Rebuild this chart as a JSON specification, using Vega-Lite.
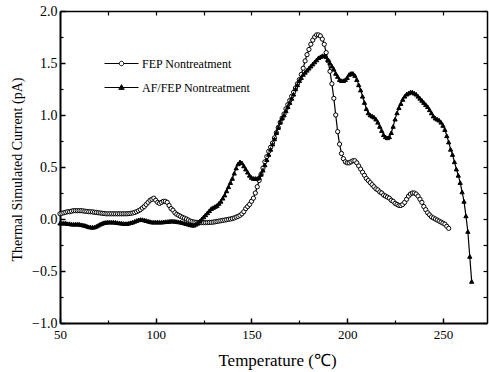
{
"$schema": "https://vega.github.io/schema/vega-lite/v6.json",
"width": 427, "height": 312,
"autosize": {"type": "none"},
"padding": {"left": 60, "top": 11, "right": 2, "bottom": 49},
"background": "white",
"config": {
  "view": {"stroke": null},
  "font": "Liberation Serif",
  "axis": {"grid": false, "domainColor": "black", "tickColor": "black", "labelColor": "black", "titleColor": "black", "labelFont": "Liberation Serif", "titleFont": "Liberation Serif", "titleFontWeight": "normal", "labelFlush": false, "labelOverlap": false, "labelBound": false}
},
"datasets": {"d": [
{"s":"FEP Nontreatment","t":50,"c":0.05},{"s":"FEP Nontreatment","t":51,"c":0.055},{"s":"FEP Nontreatment","t":52,"c":0.06},{"s":"FEP Nontreatment","t":53,"c":0.065},{"s":"FEP Nontreatment","t":54,"c":0.07},{"s":"FEP Nontreatment","t":55,"c":0.07},{"s":"FEP Nontreatment","t":56,"c":0.075},{"s":"FEP Nontreatment","t":57,"c":0.08},{"s":"FEP Nontreatment","t":58,"c":0.08},{"s":"FEP Nontreatment","t":59,"c":0.08},{"s":"FEP Nontreatment","t":60,"c":0.08},{"s":"FEP Nontreatment","t":61,"c":0.08},{"s":"FEP Nontreatment","t":62,"c":0.078},{"s":"FEP Nontreatment","t":63,"c":0.075},{"s":"FEP Nontreatment","t":64,"c":0.073},{"s":"FEP Nontreatment","t":65,"c":0.07},{"s":"FEP Nontreatment","t":66,"c":0.07},{"s":"FEP Nontreatment","t":67,"c":0.068},{"s":"FEP Nontreatment","t":68,"c":0.065},{"s":"FEP Nontreatment","t":69,"c":0.063},{"s":"FEP Nontreatment","t":70,"c":0.06},{"s":"FEP Nontreatment","t":71,"c":0.058},{"s":"FEP Nontreatment","t":72,"c":0.055},{"s":"FEP Nontreatment","t":73,"c":0.053},{"s":"FEP Nontreatment","t":74,"c":0.05},{"s":"FEP Nontreatment","t":75,"c":0.05},{"s":"FEP Nontreatment","t":76,"c":0.05},{"s":"FEP Nontreatment","t":77,"c":0.05},{"s":"FEP Nontreatment","t":78,"c":0.05},{"s":"FEP Nontreatment","t":79,"c":0.05},{"s":"FEP Nontreatment","t":80,"c":0.05},{"s":"FEP Nontreatment","t":81,"c":0.05},{"s":"FEP Nontreatment","t":82,"c":0.05},{"s":"FEP Nontreatment","t":83,"c":0.05},{"s":"FEP Nontreatment","t":84,"c":0.05},{"s":"FEP Nontreatment","t":85,"c":0.05},{"s":"FEP Nontreatment","t":86,"c":0.052},{"s":"FEP Nontreatment","t":87,"c":0.055},{"s":"FEP Nontreatment","t":88,"c":0.058},{"s":"FEP Nontreatment","t":89,"c":0.063},{"s":"FEP Nontreatment","t":90,"c":0.07},{"s":"FEP Nontreatment","t":91,"c":0.08},{"s":"FEP Nontreatment","t":92,"c":0.09},{"s":"FEP Nontreatment","t":93,"c":0.105},{"s":"FEP Nontreatment","t":94,"c":0.12},{"s":"FEP Nontreatment","t":95,"c":0.14},{"s":"FEP Nontreatment","t":96,"c":0.16},{"s":"FEP Nontreatment","t":97,"c":0.18},{"s":"FEP Nontreatment","t":98,"c":0.19},{"s":"FEP Nontreatment","t":99,"c":0.2},{"s":"FEP Nontreatment","t":100,"c":0.18},{"s":"FEP Nontreatment","t":101,"c":0.16},{"s":"FEP Nontreatment","t":102,"c":0.15},{"s":"FEP Nontreatment","t":103,"c":0.16},{"s":"FEP Nontreatment","t":104,"c":0.17},{"s":"FEP Nontreatment","t":105,"c":0.17},{"s":"FEP Nontreatment","t":106,"c":0.16},{"s":"FEP Nontreatment","t":107,"c":0.13},{"s":"FEP Nontreatment","t":108,"c":0.1},{"s":"FEP Nontreatment","t":109,"c":0.085},{"s":"FEP Nontreatment","t":110,"c":0.06},{"s":"FEP Nontreatment","t":111,"c":0.045},{"s":"FEP Nontreatment","t":112,"c":0.035},{"s":"FEP Nontreatment","t":113,"c":0.025},{"s":"FEP Nontreatment","t":114,"c":0.015},{"s":"FEP Nontreatment","t":115,"c":0.008},{"s":"FEP Nontreatment","t":116,"c":0.0},{"s":"FEP Nontreatment","t":117,"c":-0.01},{"s":"FEP Nontreatment","t":118,"c":-0.02},{"s":"FEP Nontreatment","t":119,"c":-0.025},{"s":"FEP Nontreatment","t":120,"c":-0.03},{"s":"FEP Nontreatment","t":121,"c":-0.032},{"s":"FEP Nontreatment","t":122,"c":-0.034},{"s":"FEP Nontreatment","t":123,"c":-0.035},{"s":"FEP Nontreatment","t":124,"c":-0.035},{"s":"FEP Nontreatment","t":125,"c":-0.035},{"s":"FEP Nontreatment","t":126,"c":-0.035},{"s":"FEP Nontreatment","t":127,"c":-0.034},{"s":"FEP Nontreatment","t":128,"c":-0.033},{"s":"FEP Nontreatment","t":129,"c":-0.032},{"s":"FEP Nontreatment","t":130,"c":-0.03},{"s":"FEP Nontreatment","t":131,"c":-0.027},{"s":"FEP Nontreatment","t":132,"c":-0.023},{"s":"FEP Nontreatment","t":133,"c":-0.02},{"s":"FEP Nontreatment","t":134,"c":-0.017},{"s":"FEP Nontreatment","t":135,"c":-0.013},{"s":"FEP Nontreatment","t":136,"c":-0.01},{"s":"FEP Nontreatment","t":137,"c":-0.007},{"s":"FEP Nontreatment","t":138,"c":-0.003},{"s":"FEP Nontreatment","t":139,"c":0.0},{"s":"FEP Nontreatment","t":140,"c":0.005},{"s":"FEP Nontreatment","t":141,"c":0.01},{"s":"FEP Nontreatment","t":142,"c":0.018},{"s":"FEP Nontreatment","t":143,"c":0.025},{"s":"FEP Nontreatment","t":144,"c":0.035},{"s":"FEP Nontreatment","t":145,"c":0.05},{"s":"FEP Nontreatment","t":146,"c":0.07},{"s":"FEP Nontreatment","t":147,"c":0.1},{"s":"FEP Nontreatment","t":148,"c":0.12},{"s":"FEP Nontreatment","t":149,"c":0.14},{"s":"FEP Nontreatment","t":150,"c":0.17},{"s":"FEP Nontreatment","t":151,"c":0.2},{"s":"FEP Nontreatment","t":152,"c":0.25},{"s":"FEP Nontreatment","t":153,"c":0.31},{"s":"FEP Nontreatment","t":154,"c":0.37},{"s":"FEP Nontreatment","t":155,"c":0.43},{"s":"FEP Nontreatment","t":156,"c":0.49},{"s":"FEP Nontreatment","t":157,"c":0.55},{"s":"FEP Nontreatment","t":158,"c":0.6},{"s":"FEP Nontreatment","t":159,"c":0.65},{"s":"FEP Nontreatment","t":160,"c":0.69},{"s":"FEP Nontreatment","t":161,"c":0.73},{"s":"FEP Nontreatment","t":162,"c":0.78},{"s":"FEP Nontreatment","t":163,"c":0.83},{"s":"FEP Nontreatment","t":164,"c":0.88},{"s":"FEP Nontreatment","t":165,"c":0.93},{"s":"FEP Nontreatment","t":166,"c":0.97},{"s":"FEP Nontreatment","t":167,"c":1.01},{"s":"FEP Nontreatment","t":168,"c":1.06},{"s":"FEP Nontreatment","t":169,"c":1.1},{"s":"FEP Nontreatment","t":170,"c":1.14},{"s":"FEP Nontreatment","t":171,"c":1.18},{"s":"FEP Nontreatment","t":172,"c":1.22},{"s":"FEP Nontreatment","t":173,"c":1.26},{"s":"FEP Nontreatment","t":174,"c":1.3},{"s":"FEP Nontreatment","t":175,"c":1.34},{"s":"FEP Nontreatment","t":176,"c":1.39},{"s":"FEP Nontreatment","t":177,"c":1.45},{"s":"FEP Nontreatment","t":178,"c":1.52},{"s":"FEP Nontreatment","t":179,"c":1.58},{"s":"FEP Nontreatment","t":180,"c":1.63},{"s":"FEP Nontreatment","t":181,"c":1.68},{"s":"FEP Nontreatment","t":182,"c":1.72},{"s":"FEP Nontreatment","t":183,"c":1.75},{"s":"FEP Nontreatment","t":184,"c":1.77},{"s":"FEP Nontreatment","t":185,"c":1.77},{"s":"FEP Nontreatment","t":186,"c":1.76},{"s":"FEP Nontreatment","t":187,"c":1.73},{"s":"FEP Nontreatment","t":188,"c":1.68},{"s":"FEP Nontreatment","t":189,"c":1.6},{"s":"FEP Nontreatment","t":190,"c":1.52},{"s":"FEP Nontreatment","t":191,"c":1.42},{"s":"FEP Nontreatment","t":192,"c":1.3},{"s":"FEP Nontreatment","t":193,"c":1.16},{"s":"FEP Nontreatment","t":194,"c":1.0},{"s":"FEP Nontreatment","t":195,"c":0.84},{"s":"FEP Nontreatment","t":196,"c":0.72},{"s":"FEP Nontreatment","t":197,"c":0.63},{"s":"FEP Nontreatment","t":198,"c":0.58},{"s":"FEP Nontreatment","t":199,"c":0.55},{"s":"FEP Nontreatment","t":200,"c":0.54},{"s":"FEP Nontreatment","t":201,"c":0.54},{"s":"FEP Nontreatment","t":202,"c":0.55},{"s":"FEP Nontreatment","t":203,"c":0.56},{"s":"FEP Nontreatment","t":204,"c":0.56},{"s":"FEP Nontreatment","t":205,"c":0.54},{"s":"FEP Nontreatment","t":206,"c":0.51},{"s":"FEP Nontreatment","t":207,"c":0.48},{"s":"FEP Nontreatment","t":208,"c":0.45},{"s":"FEP Nontreatment","t":209,"c":0.42},{"s":"FEP Nontreatment","t":210,"c":0.39},{"s":"FEP Nontreatment","t":211,"c":0.37},{"s":"FEP Nontreatment","t":212,"c":0.35},{"s":"FEP Nontreatment","t":213,"c":0.33},{"s":"FEP Nontreatment","t":214,"c":0.31},{"s":"FEP Nontreatment","t":215,"c":0.29},{"s":"FEP Nontreatment","t":216,"c":0.28},{"s":"FEP Nontreatment","t":217,"c":0.26},{"s":"FEP Nontreatment","t":218,"c":0.25},{"s":"FEP Nontreatment","t":219,"c":0.23},{"s":"FEP Nontreatment","t":220,"c":0.22},{"s":"FEP Nontreatment","t":221,"c":0.21},{"s":"FEP Nontreatment","t":222,"c":0.2},{"s":"FEP Nontreatment","t":223,"c":0.18},{"s":"FEP Nontreatment","t":224,"c":0.17},{"s":"FEP Nontreatment","t":225,"c":0.15},{"s":"FEP Nontreatment","t":226,"c":0.14},{"s":"FEP Nontreatment","t":227,"c":0.13},{"s":"FEP Nontreatment","t":228,"c":0.13},{"s":"FEP Nontreatment","t":229,"c":0.14},{"s":"FEP Nontreatment","t":230,"c":0.16},{"s":"FEP Nontreatment","t":231,"c":0.19},{"s":"FEP Nontreatment","t":232,"c":0.22},{"s":"FEP Nontreatment","t":233,"c":0.24},{"s":"FEP Nontreatment","t":234,"c":0.25},{"s":"FEP Nontreatment","t":235,"c":0.25},{"s":"FEP Nontreatment","t":236,"c":0.24},{"s":"FEP Nontreatment","t":237,"c":0.22},{"s":"FEP Nontreatment","t":238,"c":0.19},{"s":"FEP Nontreatment","t":239,"c":0.16},{"s":"FEP Nontreatment","t":240,"c":0.12},{"s":"FEP Nontreatment","t":241,"c":0.09},{"s":"FEP Nontreatment","t":242,"c":0.06},{"s":"FEP Nontreatment","t":243,"c":0.04},{"s":"FEP Nontreatment","t":244,"c":0.02},{"s":"FEP Nontreatment","t":245,"c":0.01},{"s":"FEP Nontreatment","t":246,"c":0.0},{"s":"FEP Nontreatment","t":247,"c":-0.01},{"s":"FEP Nontreatment","t":248,"c":-0.02},{"s":"FEP Nontreatment","t":249,"c":-0.03},{"s":"FEP Nontreatment","t":250,"c":-0.04},{"s":"FEP Nontreatment","t":251,"c":-0.05},{"s":"FEP Nontreatment","t":252,"c":-0.07},{"s":"FEP Nontreatment","t":253,"c":-0.09},
{"s":"AF/FEP Nontreatment","t":50,"c":-0.04},{"s":"AF/FEP Nontreatment","t":51,"c":-0.04},{"s":"AF/FEP Nontreatment","t":52,"c":-0.04},{"s":"AF/FEP Nontreatment","t":53,"c":-0.04},{"s":"AF/FEP Nontreatment","t":54,"c":-0.045},{"s":"AF/FEP Nontreatment","t":55,"c":-0.045},{"s":"AF/FEP Nontreatment","t":56,"c":-0.05},{"s":"AF/FEP Nontreatment","t":57,"c":-0.05},{"s":"AF/FEP Nontreatment","t":58,"c":-0.05},{"s":"AF/FEP Nontreatment","t":59,"c":-0.05},{"s":"AF/FEP Nontreatment","t":60,"c":-0.05},{"s":"AF/FEP Nontreatment","t":61,"c":-0.055},{"s":"AF/FEP Nontreatment","t":62,"c":-0.058},{"s":"AF/FEP Nontreatment","t":63,"c":-0.062},{"s":"AF/FEP Nontreatment","t":64,"c":-0.068},{"s":"AF/FEP Nontreatment","t":65,"c":-0.075},{"s":"AF/FEP Nontreatment","t":66,"c":-0.078},{"s":"AF/FEP Nontreatment","t":67,"c":-0.08},{"s":"AF/FEP Nontreatment","t":68,"c":-0.077},{"s":"AF/FEP Nontreatment","t":69,"c":-0.07},{"s":"AF/FEP Nontreatment","t":70,"c":-0.06},{"s":"AF/FEP Nontreatment","t":71,"c":-0.05},{"s":"AF/FEP Nontreatment","t":72,"c":-0.042},{"s":"AF/FEP Nontreatment","t":73,"c":-0.035},{"s":"AF/FEP Nontreatment","t":74,"c":-0.032},{"s":"AF/FEP Nontreatment","t":75,"c":-0.03},{"s":"AF/FEP Nontreatment","t":76,"c":-0.03},{"s":"AF/FEP Nontreatment","t":77,"c":-0.03},{"s":"AF/FEP Nontreatment","t":78,"c":-0.03},{"s":"AF/FEP Nontreatment","t":79,"c":-0.032},{"s":"AF/FEP Nontreatment","t":80,"c":-0.035},{"s":"AF/FEP Nontreatment","t":81,"c":-0.038},{"s":"AF/FEP Nontreatment","t":82,"c":-0.04},{"s":"AF/FEP Nontreatment","t":83,"c":-0.043},{"s":"AF/FEP Nontreatment","t":84,"c":-0.045},{"s":"AF/FEP Nontreatment","t":85,"c":-0.044},{"s":"AF/FEP Nontreatment","t":86,"c":-0.04},{"s":"AF/FEP Nontreatment","t":87,"c":-0.035},{"s":"AF/FEP Nontreatment","t":88,"c":-0.03},{"s":"AF/FEP Nontreatment","t":89,"c":-0.022},{"s":"AF/FEP Nontreatment","t":90,"c":-0.015},{"s":"AF/FEP Nontreatment","t":91,"c":-0.008},{"s":"AF/FEP Nontreatment","t":92,"c":-0.005},{"s":"AF/FEP Nontreatment","t":93,"c":-0.006},{"s":"AF/FEP Nontreatment","t":94,"c":-0.01},{"s":"AF/FEP Nontreatment","t":95,"c":-0.015},{"s":"AF/FEP Nontreatment","t":96,"c":-0.02},{"s":"AF/FEP Nontreatment","t":97,"c":-0.025},{"s":"AF/FEP Nontreatment","t":98,"c":-0.03},{"s":"AF/FEP Nontreatment","t":99,"c":-0.03},{"s":"AF/FEP Nontreatment","t":100,"c":-0.03},{"s":"AF/FEP Nontreatment","t":101,"c":-0.03},{"s":"AF/FEP Nontreatment","t":102,"c":-0.03},{"s":"AF/FEP Nontreatment","t":103,"c":-0.03},{"s":"AF/FEP Nontreatment","t":104,"c":-0.028},{"s":"AF/FEP Nontreatment","t":105,"c":-0.026},{"s":"AF/FEP Nontreatment","t":106,"c":-0.025},{"s":"AF/FEP Nontreatment","t":107,"c":-0.022},{"s":"AF/FEP Nontreatment","t":108,"c":-0.02},{"s":"AF/FEP Nontreatment","t":109,"c":-0.02},{"s":"AF/FEP Nontreatment","t":110,"c":-0.022},{"s":"AF/FEP Nontreatment","t":111,"c":-0.025},{"s":"AF/FEP Nontreatment","t":112,"c":-0.028},{"s":"AF/FEP Nontreatment","t":113,"c":-0.03},{"s":"AF/FEP Nontreatment","t":114,"c":-0.035},{"s":"AF/FEP Nontreatment","t":115,"c":-0.04},{"s":"AF/FEP Nontreatment","t":116,"c":-0.045},{"s":"AF/FEP Nontreatment","t":117,"c":-0.05},{"s":"AF/FEP Nontreatment","t":118,"c":-0.055},{"s":"AF/FEP Nontreatment","t":119,"c":-0.06},{"s":"AF/FEP Nontreatment","t":120,"c":-0.06},{"s":"AF/FEP Nontreatment","t":121,"c":-0.05},{"s":"AF/FEP Nontreatment","t":122,"c":-0.04},{"s":"AF/FEP Nontreatment","t":123,"c":-0.02},{"s":"AF/FEP Nontreatment","t":124,"c":0.0},{"s":"AF/FEP Nontreatment","t":125,"c":0.02},{"s":"AF/FEP Nontreatment","t":126,"c":0.04},{"s":"AF/FEP Nontreatment","t":127,"c":0.06},{"s":"AF/FEP Nontreatment","t":128,"c":0.08},{"s":"AF/FEP Nontreatment","t":129,"c":0.1},{"s":"AF/FEP Nontreatment","t":130,"c":0.11},{"s":"AF/FEP Nontreatment","t":131,"c":0.12},{"s":"AF/FEP Nontreatment","t":132,"c":0.13},{"s":"AF/FEP Nontreatment","t":133,"c":0.15},{"s":"AF/FEP Nontreatment","t":134,"c":0.17},{"s":"AF/FEP Nontreatment","t":135,"c":0.2},{"s":"AF/FEP Nontreatment","t":136,"c":0.23},{"s":"AF/FEP Nontreatment","t":137,"c":0.27},{"s":"AF/FEP Nontreatment","t":138,"c":0.31},{"s":"AF/FEP Nontreatment","t":139,"c":0.35},{"s":"AF/FEP Nontreatment","t":140,"c":0.39},{"s":"AF/FEP Nontreatment","t":141,"c":0.44},{"s":"AF/FEP Nontreatment","t":142,"c":0.49},{"s":"AF/FEP Nontreatment","t":143,"c":0.53},{"s":"AF/FEP Nontreatment","t":144,"c":0.55},{"s":"AF/FEP Nontreatment","t":145,"c":0.54},{"s":"AF/FEP Nontreatment","t":146,"c":0.51},{"s":"AF/FEP Nontreatment","t":147,"c":0.48},{"s":"AF/FEP Nontreatment","t":148,"c":0.45},{"s":"AF/FEP Nontreatment","t":149,"c":0.42},{"s":"AF/FEP Nontreatment","t":150,"c":0.4},{"s":"AF/FEP Nontreatment","t":151,"c":0.39},{"s":"AF/FEP Nontreatment","t":152,"c":0.39},{"s":"AF/FEP Nontreatment","t":153,"c":0.39},{"s":"AF/FEP Nontreatment","t":154,"c":0.4},{"s":"AF/FEP Nontreatment","t":155,"c":0.43},{"s":"AF/FEP Nontreatment","t":156,"c":0.47},{"s":"AF/FEP Nontreatment","t":157,"c":0.52},{"s":"AF/FEP Nontreatment","t":158,"c":0.57},{"s":"AF/FEP Nontreatment","t":159,"c":0.62},{"s":"AF/FEP Nontreatment","t":160,"c":0.67},{"s":"AF/FEP Nontreatment","t":161,"c":0.72},{"s":"AF/FEP Nontreatment","t":162,"c":0.77},{"s":"AF/FEP Nontreatment","t":163,"c":0.83},{"s":"AF/FEP Nontreatment","t":164,"c":0.88},{"s":"AF/FEP Nontreatment","t":165,"c":0.93},{"s":"AF/FEP Nontreatment","t":166,"c":0.97},{"s":"AF/FEP Nontreatment","t":167,"c":1.0},{"s":"AF/FEP Nontreatment","t":168,"c":1.04},{"s":"AF/FEP Nontreatment","t":169,"c":1.08},{"s":"AF/FEP Nontreatment","t":170,"c":1.12},{"s":"AF/FEP Nontreatment","t":171,"c":1.16},{"s":"AF/FEP Nontreatment","t":172,"c":1.2},{"s":"AF/FEP Nontreatment","t":173,"c":1.25},{"s":"AF/FEP Nontreatment","t":174,"c":1.29},{"s":"AF/FEP Nontreatment","t":175,"c":1.33},{"s":"AF/FEP Nontreatment","t":176,"c":1.36},{"s":"AF/FEP Nontreatment","t":177,"c":1.39},{"s":"AF/FEP Nontreatment","t":178,"c":1.41},{"s":"AF/FEP Nontreatment","t":179,"c":1.43},{"s":"AF/FEP Nontreatment","t":180,"c":1.45},{"s":"AF/FEP Nontreatment","t":181,"c":1.47},{"s":"AF/FEP Nontreatment","t":182,"c":1.49},{"s":"AF/FEP Nontreatment","t":183,"c":1.51},{"s":"AF/FEP Nontreatment","t":184,"c":1.53},{"s":"AF/FEP Nontreatment","t":185,"c":1.55},{"s":"AF/FEP Nontreatment","t":186,"c":1.56},{"s":"AF/FEP Nontreatment","t":187,"c":1.57},{"s":"AF/FEP Nontreatment","t":188,"c":1.57},{"s":"AF/FEP Nontreatment","t":189,"c":1.56},{"s":"AF/FEP Nontreatment","t":190,"c":1.53},{"s":"AF/FEP Nontreatment","t":191,"c":1.5},{"s":"AF/FEP Nontreatment","t":192,"c":1.47},{"s":"AF/FEP Nontreatment","t":193,"c":1.44},{"s":"AF/FEP Nontreatment","t":194,"c":1.4},{"s":"AF/FEP Nontreatment","t":195,"c":1.37},{"s":"AF/FEP Nontreatment","t":196,"c":1.34},{"s":"AF/FEP Nontreatment","t":197,"c":1.33},{"s":"AF/FEP Nontreatment","t":198,"c":1.33},{"s":"AF/FEP Nontreatment","t":199,"c":1.34},{"s":"AF/FEP Nontreatment","t":200,"c":1.36},{"s":"AF/FEP Nontreatment","t":201,"c":1.39},{"s":"AF/FEP Nontreatment","t":202,"c":1.4},{"s":"AF/FEP Nontreatment","t":203,"c":1.4},{"s":"AF/FEP Nontreatment","t":204,"c":1.38},{"s":"AF/FEP Nontreatment","t":205,"c":1.34},{"s":"AF/FEP Nontreatment","t":206,"c":1.29},{"s":"AF/FEP Nontreatment","t":207,"c":1.24},{"s":"AF/FEP Nontreatment","t":208,"c":1.18},{"s":"AF/FEP Nontreatment","t":209,"c":1.12},{"s":"AF/FEP Nontreatment","t":210,"c":1.06},{"s":"AF/FEP Nontreatment","t":211,"c":1.02},{"s":"AF/FEP Nontreatment","t":212,"c":1.0},{"s":"AF/FEP Nontreatment","t":213,"c":0.99},{"s":"AF/FEP Nontreatment","t":214,"c":0.98},{"s":"AF/FEP Nontreatment","t":215,"c":0.96},{"s":"AF/FEP Nontreatment","t":216,"c":0.93},{"s":"AF/FEP Nontreatment","t":217,"c":0.89},{"s":"AF/FEP Nontreatment","t":218,"c":0.85},{"s":"AF/FEP Nontreatment","t":219,"c":0.81},{"s":"AF/FEP Nontreatment","t":220,"c":0.79},{"s":"AF/FEP Nontreatment","t":221,"c":0.78},{"s":"AF/FEP Nontreatment","t":222,"c":0.79},{"s":"AF/FEP Nontreatment","t":223,"c":0.83},{"s":"AF/FEP Nontreatment","t":224,"c":0.89},{"s":"AF/FEP Nontreatment","t":225,"c":0.96},{"s":"AF/FEP Nontreatment","t":226,"c":1.02},{"s":"AF/FEP Nontreatment","t":227,"c":1.07},{"s":"AF/FEP Nontreatment","t":228,"c":1.11},{"s":"AF/FEP Nontreatment","t":229,"c":1.15},{"s":"AF/FEP Nontreatment","t":230,"c":1.18},{"s":"AF/FEP Nontreatment","t":231,"c":1.2},{"s":"AF/FEP Nontreatment","t":232,"c":1.21},{"s":"AF/FEP Nontreatment","t":233,"c":1.22},{"s":"AF/FEP Nontreatment","t":234,"c":1.22},{"s":"AF/FEP Nontreatment","t":235,"c":1.21},{"s":"AF/FEP Nontreatment","t":236,"c":1.2},{"s":"AF/FEP Nontreatment","t":237,"c":1.18},{"s":"AF/FEP Nontreatment","t":238,"c":1.16},{"s":"AF/FEP Nontreatment","t":239,"c":1.14},{"s":"AF/FEP Nontreatment","t":240,"c":1.12},{"s":"AF/FEP Nontreatment","t":241,"c":1.1},{"s":"AF/FEP Nontreatment","t":242,"c":1.08},{"s":"AF/FEP Nontreatment","t":243,"c":1.05},{"s":"AF/FEP Nontreatment","t":244,"c":1.02},{"s":"AF/FEP Nontreatment","t":245,"c":0.99},{"s":"AF/FEP Nontreatment","t":246,"c":0.97},{"s":"AF/FEP Nontreatment","t":247,"c":0.96},{"s":"AF/FEP Nontreatment","t":248,"c":0.95},{"s":"AF/FEP Nontreatment","t":249,"c":0.93},{"s":"AF/FEP Nontreatment","t":250,"c":0.9},{"s":"AF/FEP Nontreatment","t":251,"c":0.86},{"s":"AF/FEP Nontreatment","t":252,"c":0.8},{"s":"AF/FEP Nontreatment","t":253,"c":0.74},{"s":"AF/FEP Nontreatment","t":254,"c":0.67},{"s":"AF/FEP Nontreatment","t":255,"c":0.62},{"s":"AF/FEP Nontreatment","t":256,"c":0.55},{"s":"AF/FEP Nontreatment","t":257,"c":0.48},{"s":"AF/FEP Nontreatment","t":258,"c":0.42},{"s":"AF/FEP Nontreatment","t":259,"c":0.35},{"s":"AF/FEP Nontreatment","t":260,"c":0.26},{"s":"AF/FEP Nontreatment","t":261,"c":0.17},{"s":"AF/FEP Nontreatment","t":262,"c":0.03},{"s":"AF/FEP Nontreatment","t":263,"c":-0.12},{"s":"AF/FEP Nontreatment","t":264,"c":-0.36},{"s":"AF/FEP Nontreatment","t":265,"c":-0.6}
]},
"data": {"name": "d"},
"layer": [
  {
    "mark": {"type": "line", "color": "black", "strokeWidth": 1.2},
    "encoding": {
      "x": {"field": "t", "type": "quantitative", "scale": {"domain": [50, 273], "nice": false, "zero": false},
            "axis": {"orient": "bottom", "values": [50, 100, 150, 200, 250], "tickSize": -5, "tickWidth": 1.5, "domainWidth": 2, "labelPadding": 10, "labelFontSize": 13, "title": "Temperature (℃)", "titleFontSize": 17, "titleX": 217, "titleY": 37, "titleBaseline": "middle"}},
      "y": {"field": "c", "type": "quantitative", "scale": {"domain": [-1, 2], "nice": false, "zero": false},
            "axis": {"orient": "left", "values": [-1, -0.5, 0, 0.5, 1, 1.5, 2], "format": ".1f", "tickSize": -5, "tickWidth": 1.5, "domainWidth": 2, "labelPadding": 8, "labelFontSize": 14, "title": "Thermal Simulated Current (pA)", "titleFontSize": 14, "titleX": -43, "titleY": 158, "titleBaseline": "middle", "titleAngle": -90}},
      "detail": {"field": "s"}
    }
  },
  {
    "mark": {"type": "point", "filled": true, "stroke": "black", "strokeWidth": 1, "opacity": 1},
    "encoding": {
      "x": {"field": "t", "type": "quantitative",
            "axis": {"orient": "bottom", "values": [75, 125, 175, 225], "tickSize": -3, "tickWidth": 1.2, "domain": false, "labels": false, "title": null}},
      "y": {"field": "c", "type": "quantitative",
            "axis": {"orient": "left", "values": [-0.75, -0.25, 0.25, 0.75, 1.25, 1.75], "tickSize": -3, "tickWidth": 1.2, "domain": false, "labels": false, "title": null}},
      "size": {"value": 18},
      "fill": {"condition": {"test": "datum.s === 'FEP Nontreatment'", "value": "white"}, "value": "black"},
      "shape": {"field": "s", "type": "nominal", "scale": {"domain": ["FEP Nontreatment", "AF/FEP Nontreatment"], "range": ["circle", "triangle-up"]}, "legend": null}
    }
  },
  {
    "transform": [{"filter": "datum.t < 0"}],
    "mark": {"type": "point", "filled": false, "color": "black", "strokeWidth": 1, "opacity": 1},
    "encoding": {
      "shape": {"field": "s", "type": "nominal", "scale": {"domain": ["FEP Nontreatment", "AF/FEP Nontreatment"], "range": ["M-1,0L-0.13,0M0.13,0L1,0M0.13,0A0.13,0.13,0,1,1,-0.13,0A0.13,0.13,0,1,1,0.13,0Z", "M-1,0L1,0M0,-0.17L0.16,0.11L-0.16,0.11Z M0,-0.09L0.09,0.07L-0.09,0.07Z M0,-0.12L0,0.1"]},
        "legend": {"orient": "none", "legendX": 44, "legendY": 35, "title": null, "labelFont": "Liberation Serif", "labelFontSize": 12, "labelColor": "black", "symbolSize": 1156, "symbolStrokeWidth": 1, "symbolStrokeColor": "black", "symbolFillColor": "transparent", "labelOffset": 3, "rowPadding": -18}}
    }
  },
  {
    "mark": {"type": "point", "opacity": 0},
    "encoding": {
      "x": {"field": "t", "type": "quantitative",
            "axis": {"orient": "top", "values": [50, 75, 100, 125, 150, 175, 200, 225, 250], "tickSize": -4, "tickWidth": 1.2, "domainWidth": 1.5, "labels": false, "title": null}},
      "y": {"field": "c", "type": "quantitative",
            "axis": {"orient": "right", "values": [-1, -0.75, -0.5, -0.25, 0, 0.25, 0.5, 0.75, 1, 1.25, 1.5, 1.75, 2], "tickSize": -4, "tickWidth": 1.2, "domainWidth": 1.5, "labels": false, "title": null}}
    }
  }
],
"resolve": {"scale": {"shape": "independent"}, "axis": {"x": "independent", "y": "independent"}}
}
